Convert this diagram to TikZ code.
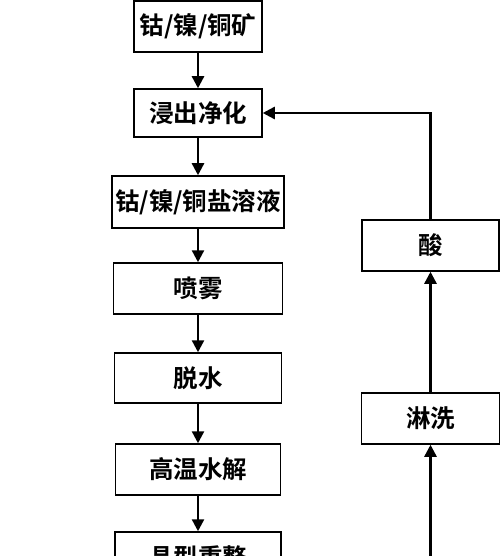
\documentclass[tikz,border=0pt]{standalone}
\usepackage{fontspec}
\newfontfamily\cjk[BoldFont={Noto Sans CJK SC Bold}]{Noto Sans CJK SC}
\usepackage{tikz}
\usetikzlibrary{arrows.meta}

\tikzset{
  box/.style={draw, line width=1.5pt, inner sep=0pt, minimum height=51pt,
    font=\cjk\bfseries\fontsize{24.5}{24.5}\selectfont},
  flow/.style={line width=2.4pt, -{Triangle[length=12pt,width=12pt]}}
}

\begin{document}
\begin{tikzpicture}[x=1pt,y=-1pt]
\clip (0,0) rectangle (500,556);
\node[box, minimum width=128pt] (kuang) at (198,26.5) {钴/镍/铜矿};
\node[box, minimum width=128pt, minimum height=48pt] (jinchu) at (198,113) {浸出净化};
\node[box, minimum width=172pt, minimum height=52pt] (rongye) at (198,202) {钴/镍/铜盐溶液};
\node[box, minimum width=169pt] (penwu) at (198,288.5) {喷雾};
\node[box, minimum width=167pt, minimum height=50pt] (tuoshui) at (198,378) {脱水};
\node[box, minimum width=165pt] (shuijie) at (198,469.5) {高温水解};
\node[box, minimum width=166pt] (jingxing) at (198,557.5) {晶型重整};
\node[box, minimum width=137pt] (suan) at (430.5,245.5) {酸};
\node[box, minimum width=138pt] (linxi) at (430.5,418.5) {淋洗};
\coordinate (fanhui) at (430.5,560);
\draw[flow] (kuang) -- (jinchu);
\draw[flow] (jinchu) -- (rongye);
\draw[flow] (rongye) -- (penwu);
\draw[flow] (penwu) -- (tuoshui);
\draw[flow] (tuoshui) -- (shuijie);
\draw[flow] (shuijie) -- (jingxing);
\draw[flow] (fanhui) -- (linxi);
\draw[flow] (linxi) -- (suan);
\draw[flow] (suan.north) |- (jinchu.east);
\end{tikzpicture}
\end{document}
